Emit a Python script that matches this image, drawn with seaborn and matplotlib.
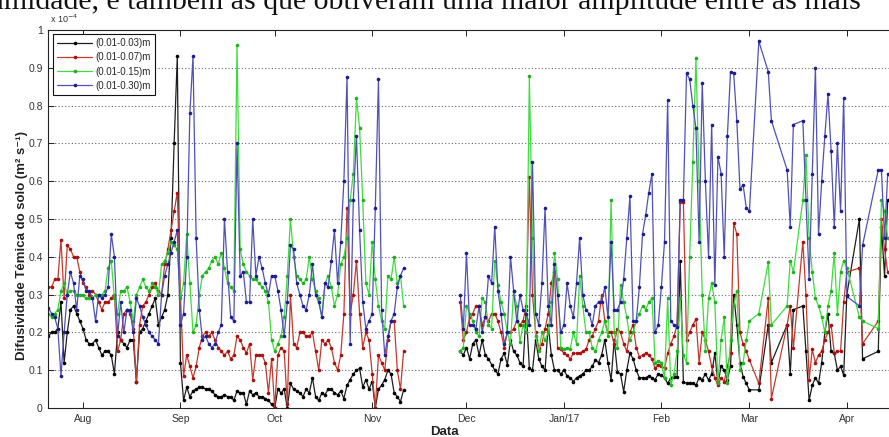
import numpy as np
import pandas as pd
import matplotlib
matplotlib.use("Agg")
import matplotlib.pyplot as plt
import seaborn as sns
from matplotlib.lines import Line2D

# ---------------- data (values x 1e-4 m2 s-1) ----------------
series_names = ["(0.01-0.03)m", "(0.01-0.07)m", "(0.01-0.15)m", "(0.01-0.30)m"]
month_ticks = ["2016-08-01", "2016-09-01", "2016-10-01", "2016-11-01", "2016-12-01",
               "2017-01-01", "2017-02-01", "2017-03-01", "2017-04-01"]
month_labels = ["Aug", "Sep", "Oct", "Nov", "Dec", "Jan/17", "Feb", "Mar", "Apr"]
ytick_vals = [0, 0.1, 0.2, 0.3, 0.4, 0.5, 0.6, 0.7, 0.8, 0.9, 1]
ytick_labels = ["0", "0.1", "0.2", "0.3", "0.4", "0.5", "0.6", "0.7", "0.8", "0.9", "1"]

dates_1 = pd.date_range("2016-07-21", "2016-11-11", freq="D")
dates_2 = pd.date_range("2016-11-29", "2017-04-14", freq="D")

black_1 = [0.19, 0.20, 0.20, 0.21, 0.28, 0.12, 0.20, 0.26, 0.27, 0.25,
           0.23, 0.21, 0.18, 0.17, 0.17, 0.18, 0.16, 0.14, 0.15, 0.15,
           0.14, 0.09, 0.20, 0.18, 0.17, 0.16, 0.18, 0.18, 0.07, 0.20,
           0.21, 0.23, 0.25, 0.27, 0.29, 0.22, 0.24, 0.26, 0.30, 0.45,
           0.70, 0.93, 0.12, 0.02, 0.055, 0.03, 0.045, 0.05, 0.055, 0.055,
           0.05, 0.05, 0.045, 0.035, 0.03, 0.03, 0.035, 0.03, 0.03, 0.02,
           0.045, 0.04, 0.04, 0.01, 0.045, 0.035, 0.04, 0.03, 0.03, 0.025,
           0.02, 0.01, 0.0, 0.05, 0.04, 0.05, 0.0, 0.065, 0.05, 0.045,
           0.04, 0.03, 0.05, 0.04, 0.08, 0.03, 0.02, 0.04, 0.035, 0.05,
           0.05, 0.04, 0.035, 0.045, 0.025, 0.06, 0.075, 0.09, 0.10, 0.105,
           0.055, 0.075, 0.05, 0.07, 0.0, 0.05, 0.06, 0.075, 0.10, 0.09,
           0.04, 0.03, 0.017, 0.048]
red_1 = [0.32, 0.32, 0.34, 0.34, 0.445, 0.29, 0.43, 0.42, 0.40, 0.40,
         0.36, 0.33, 0.32, 0.30, 0.31, 0.30, 0.28, 0.26, 0.28, 0.28,
         0.29, 0.30, 0.15, 0.18, 0.25, 0.26, 0.25, 0.21, 0.07, 0.22,
         0.27, 0.28, 0.30, 0.32, 0.33, 0.31, 0.30, 0.38, 0.42, 0.47,
         0.52, 0.57, 0.30, 0.085, 0.14, 0.11, 0.08, 0.11, 0.16, 0.19,
         0.20, 0.19, 0.20, 0.18, 0.16, 0.15, 0.14, 0.15, 0.13, 0.14,
         0.19, 0.18, 0.16, 0.145, 0.17, 0.074, 0.14, 0.14, 0.14, 0.12,
         0.04, 0.13, 0.0, 0.14, 0.16, 0.15, 0.01, 0.30, 0.17, 0.16,
         0.20, 0.20, 0.19, 0.19, 0.20, 0.15, 0.10, 0.18, 0.17, 0.18,
         0.16, 0.12, 0.10, 0.14, 0.25, 0.53, 0.25, 0.30, 0.39, 0.25,
         0.16, 0.20, 0.18, 0.09, 0.0, 0.14, 0.12, 0.10, 0.18, 0.23,
         0.23, 0.10, 0.05, 0.15]
green_1 = [0.25, 0.24, 0.25, 0.26, 0.31, 0.33, 0.30, 0.31, 0.31, 0.30,
           0.30, 0.30, 0.29, 0.29, 0.29, 0.30, 0.30, 0.30, 0.31, 0.37,
           0.39, 0.29, 0.25, 0.31, 0.31, 0.32, 0.28, 0.23, 0.30, 0.32,
           0.34, 0.32, 0.31, 0.33, 0.32, 0.30, 0.38, 0.39, 0.41, 0.44,
           0.43, 0.42, 0.29, 0.33, 0.46, 0.33, 0.20, 0.22, 0.30, 0.35,
           0.36, 0.37, 0.39, 0.40, 0.38, 0.41, 0.37, 0.33, 0.32, 0.31,
           0.96, 0.42, 0.38, 0.36, 0.35, 0.34, 0.34, 0.33, 0.32, 0.31,
           0.28, 0.18, 0.15, 0.17, 0.19, 0.24, 0.35, 0.50, 0.40, 0.35,
           0.34, 0.33, 0.34, 0.40, 0.34, 0.31, 0.29, 0.24, 0.33, 0.35,
           0.32, 0.27, 0.30, 0.38, 0.40, 0.45, 0.55, 0.62, 0.82, 0.74,
           0.55, 0.33, 0.30, 0.44, 0.34, 0.27, 0.23, 0.21, 0.35, 0.34,
           0.40, 0.33, 0.35, 0.27]
blue_1 = [0.265, 0.25, 0.24, 0.21, 0.085, 0.20, 0.30, 0.36, 0.33, 0.26,
          0.35, 0.34, 0.31, 0.31, 0.29, 0.23, 0.30, 0.29, 0.30, 0.32,
          0.46, 0.40, 0.19, 0.28, 0.20, 0.26, 0.26, 0.20, 0.29, 0.27,
          0.24, 0.22, 0.20, 0.19, 0.18, 0.17, 0.30, 0.35, 0.38, 0.41,
          0.44, 0.47, 0.22, 0.25, 0.40, 0.78, 0.93, 0.45, 0.26, 0.18,
          0.19, 0.17, 0.16, 0.17, 0.20, 0.22, 0.50, 0.36, 0.24, 0.23,
          0.70, 0.35, 0.36, 0.28, 0.28, 0.50, 0.35, 0.40, 0.37, 0.33,
          0.30, 0.35, 0.35, 0.31, 0.26, 0.19, 0.28, 0.43, 0.42, 0.33,
          0.30, 0.27, 0.26, 0.30, 0.38, 0.30, 0.28, 0.24, 0.33, 0.32,
          0.39, 0.47, 0.33, 0.44, 0.60, 0.875, 0.17, 0.55, 0.72, 0.47,
          0.28, 0.21, 0.23, 0.25, 0.53, 0.87, 0.26, 0.14, 0.19, 0.23,
          0.25, 0.32, 0.35, 0.37]

N = None
black_2 = [0.15, 0.14, 0.16, 0.13, 0.17, 0.18, 0.14, 0.18, 0.14, 0.13,
           0.115, 0.10, 0.09, 0.13, 0.145, 0.115, 0.18, 0.15, 0.14, 0.12,
           0.11, 0.26, 0.105, 0.10, 0.18, 0.13, 0.11, 0.10, 0.22, 0.14,
           0.10, 0.10, 0.09, 0.10, 0.085, 0.08, 0.07, 0.08, 0.085, 0.09,
           0.10, 0.10, 0.11, 0.127, 0.12, 0.14, 0.18, 0.12, 0.074, 0.18,
           0.096, 0.09, 0.043, 0.10, 0.145, 0.13, 0.10, 0.08, 0.08, 0.08,
           0.085, 0.08, 0.075, 0.09, 0.087, 0.08, 0.065, 0.08, 0.083, 0.083,
           0.39, 0.07, 0.065, 0.065, 0.065, 0.06, 0.08, 0.075, 0.09, 0.074,
           0.09, 0.145, 0.065, 0.11, 0.10, 0.075, 0.11, 0.30, 0.22, 0.12,
           0.083, 0.065, 0.048, N, N, 0.048, N, N, 0.22, 0.12,
           N, N, N, N, 0.22, 0.09, 0.26, N, N, 0.27,
           0.15, 0.02, 0.06, 0.08, 0.065, 0.12, 0.20, 0.25, 0.15, 0.145,
           0.10, 0.11, 0.087, 0.30, N, N, N, 0.50, 0.13, N,
           N, N, N, 0.15, 0.48, 0.35, 0.55]
red_2 = [0.28, 0.18, 0.20, 0.24, 0.25, 0.27, 0.27, 0.22, 0.24, 0.23,
         0.25, 0.25, 0.23, 0.20, 0.16, 0.20, 0.20, 0.21, 0.23, 0.22,
         0.23, 0.27, 0.61, 0.30, 0.20, 0.16, 0.17, 0.21, 0.25, 0.33,
         0.36, 0.16, 0.155, 0.145, 0.14, 0.13, 0.145, 0.145, 0.145, 0.15,
         0.155, 0.18, 0.19, 0.21, 0.23, 0.30, 0.23, 0.20, 0.20, 0.17,
         0.21, 0.20, 0.17, 0.15, 0.20, 0.22, 0.16, 0.135, 0.14, 0.145,
         0.14, 0.13, 0.105, 0.115, 0.11, 0.105, 0.145, 0.17, 0.19, 0.22,
         0.545, 0.545, 0.18, 0.20, 0.22, 0.235, 0.12, 0.20, 0.18, 0.15,
         0.11, 0.08, 0.06, 0.08, 0.07, 0.11, 0.145, 0.49, 0.46, 0.20,
         0.17, 0.15, 0.127, N, N, 0.065, N, N, 0.29, 0.025,
         N, N, N, N, 0.22, 0.27, 0.16, N, N, 0.44,
         0.30, 0.074, 0.155, 0.12, 0.14, 0.15, 0.18, 0.20, 0.22, 0.145,
         0.15, 0.15, 0.28, 0.36, N, N, N, 0.37, 0.17, N,
         N, N, N, 0.23, 0.50, 0.42, 0.36]
green_2 = [0.15, 0.16, 0.27, 0.25, 0.23, 0.20, 0.19, 0.29, 0.28, 0.22,
           0.21, 0.39, 0.325, 0.28, 0.25, 0.20, 0.17, 0.31, 0.27, 0.175,
           0.22, 0.20, 0.877, 0.45, 0.19, 0.15, 0.20, 0.18, 0.20, 0.28,
           0.41, 0.34, 0.16, 0.155, 0.16, 0.155, 0.20, 0.17, 0.35, 0.27,
           0.20, 0.20, 0.16, 0.15, 0.18, 0.20, 0.23, 0.19, 0.55, 0.20,
           0.16, 0.325, 0.28, 0.24, 0.18, 0.20, 0.23, 0.25, 0.27, 0.26,
           0.28, 0.29, 0.12, 0.125, 0.12, 0.08, 0.29, 0.06, 0.09, 0.15,
           0.29, 0.14, 0.12, 0.40, 0.65, 0.925, 0.60, 0.30, 0.15, 0.29,
           0.33, 0.28, 0.065, 0.18, 0.24, 0.065, 0.18, 0.27, 0.31, 0.10,
           0.12, 0.18, 0.23, N, N, 0.25, N, N, 0.385, 0.22,
           N, N, N, N, 0.27, 0.39, 0.36, N, N, 0.55,
           0.67, 0.45, 0.36, 0.29, 0.27, 0.24, 0.20, 0.27, 0.31, 0.41,
           0.25, 0.36, 0.39, 0.37, N, N, N, 0.24, 0.23, N,
           N, N, N, 0.21, 0.55, 0.52, 0.45]
blue_2 = [0.30, 0.21, 0.41, 0.22, 0.22, 0.21, 0.27, 0.20, 0.24, 0.35,
          0.33, 0.48, 0.31, 0.25, 0.17, 0.20, 0.40, 0.31, 0.23, 0.30,
          0.26, 0.25, 0.22, 0.65, 0.25, 0.22, 0.33, 0.53, 0.27, 0.22,
          0.38, 0.30, 0.20, 0.22, 0.33, 0.27, 0.24, 0.33, 0.45, 0.30,
          0.26, 0.25, 0.22, 0.27, 0.28, 0.28, 0.32, 0.24, 0.44, 0.26,
          0.26, 0.28, 0.34, 0.45, 0.56, 0.23, 0.23, 0.32, 0.46, 0.51,
          0.57, 0.62, 0.20, 0.22, 0.32, 0.44, 0.815, 0.23, 0.22, 0.215,
          0.55, 0.55, 0.885, 0.87, 0.80, 0.74, 0.44, 0.86, 0.60, 0.40,
          0.75, 0.325, 0.665, 0.62, 0.40, 0.72, 0.89, 0.885, 0.76, 0.58,
          0.59, 0.53, 0.52, N, N, 0.97, N, N, 0.89, 0.76,
          N, N, N, N, 0.63, 0.48, 0.75, N, N, 0.76,
          0.55, 0.34, 0.62, 0.90, 0.46, 0.60, 0.72, 0.83, 0.68, 0.48,
          0.70, 0.52, 0.82, 0.295, N, N, N, 0.27, 0.43, N,
          N, N, N, 0.63, 0.63, 0.45, 0.62]

series_values = {
    series_names[0]: (black_1, black_2),
    series_names[1]: (red_1, red_2),
    series_names[2]: (green_1, green_2),
    series_names[3]: (blue_1, blue_2),
}

# ---------------- styling ----------------
line_colors = {series_names[0]: "#1e1e1e", series_names[1]: "#c33a2e",
               series_names[2]: "#3fdc3f", series_names[3]: "#5050b8"}
marker_colors = {series_names[0]: "#000000", series_names[1]: "#a81010",
                 series_names[2]: "#20b020", series_names[3]: "#1c1c8c"}

rows = []
for name, (v1, v2) in series_values.items():
    for seg, (dts, vals) in enumerate([(dates_1, v1), (dates_2, v2)]):
        for d, v in zip(dts, vals):
            if v is not None:
                rows.append({"date": d, "value": v, "series": name, "segment": seg})
df = pd.DataFrame(rows)

sns.set_style("ticks")
plt.rcParams["font.family"] = ["Liberation Sans", "DejaVu Sans"]
plt.rcParams["xtick.direction"] = "in"
plt.rcParams["ytick.direction"] = "in"

W, H = 889, 437
fig = plt.figure(figsize=(W / 100, H / 100), dpi=100)
ax = fig.add_axes([48.4 / W, (H - 408) / H, 889.6 / W, 378 / H])

sns.lineplot(data=df, x="date", y="value", hue="series", hue_order=series_names,
             units="segment", estimator=None, palette=line_colors, sort=True,
             marker="o", markersize=2.6, markeredgewidth=0, linewidth=0.9,
             legend=False, ax=ax)

inv = {v: k for k, v in line_colors.items()}
for ln in ax.lines:
    c = matplotlib.colors.to_hex(ln.get_color())
    if c in inv:
        ln.set_markerfacecolor(marker_colors[inv[c]])

ax.set_xlim(pd.Timestamp("2016-07-21"), pd.Timestamp("2017-04-30"))
ax.set_ylim(0, 1)
ax.set_xticks(pd.to_datetime(month_ticks))
ax.set_xticklabels(month_labels)
ax.set_yticks(ytick_vals)
ax.set_yticklabels(ytick_labels)
ax.tick_params(axis="both", which="both", direction="in", top=True, right=True,
               length=4, width=0.7, labelsize=7.5, labelcolor="#333333", color="#222222", pad=4)
ax.set_xlabel("")
ax.set_ylabel("")
for s in ax.spines.values():
    s.set_linewidth(0.8)
    s.set_color("#222222")
for yv in ytick_vals[1:-1]:
    ax.axhline(yv, color="#666666", linestyle=(0, (1, 2)), linewidth=0.8, zorder=0)

fig.text(50 / W, 1 - 23 / H, r"x 10$^{-4}$", fontsize=6.5, color="#333333",
         ha="left", va="baseline")
fig.text(22 / W, 1 - 246 / H, "Difusividade Témica do solo (m² s⁻¹)", rotation=90,
         fontsize=9.5, fontweight="bold", ha="center", va="center", color="#222222")
fig.text(444 / W, 1 - 432 / H, "Data", fontsize=9.5, fontweight="bold",
         ha="center", va="center", color="#222222")
fig.text(-0.012, 1 - 9 / H, "umidade, é também as que obtiveram uma maior amplitude entre as mais",
         family=["Liberation Serif", "DejaVu Serif"], fontsize=21.5, ha="left",
         va="baseline", color="#111111")

handles = [Line2D([0], [0], color=line_colors[n], marker="o", markersize=2.6,
                  markerfacecolor=marker_colors[n], markeredgewidth=0, linewidth=0.9)
           for n in series_names]
leg = ax.legend(handles, series_names, loc="upper left",
                bbox_to_anchor=(53 / W, 1 - 34 / H), bbox_transform=fig.transFigure,
                borderaxespad=0, fontsize=7, handlelength=3.6, handletextpad=0.3,
                labelspacing=0.42, borderpad=0.45, frameon=True, fancybox=False,
                edgecolor="#111111", framealpha=1)
leg.get_frame().set_linewidth(0.8)

fig.savefig("out.png", dpi=100)
